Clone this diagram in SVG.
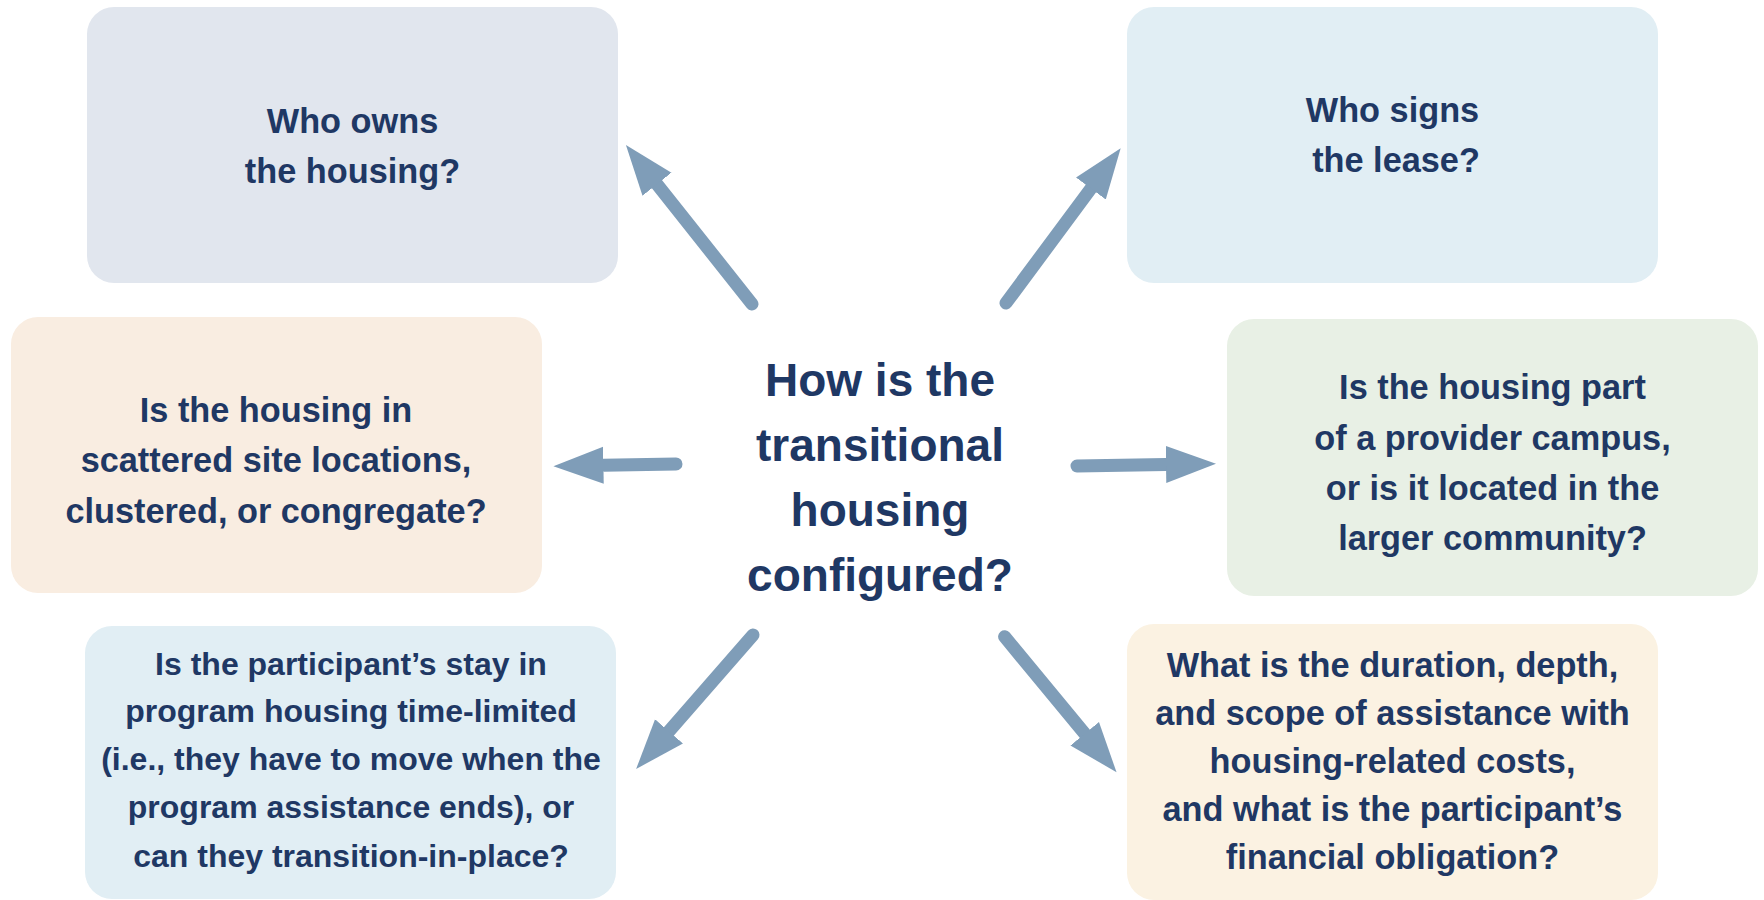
<svg xmlns="http://www.w3.org/2000/svg" width="1764" height="900" viewBox="0 0 1764 900">
<defs>
<style>
.box{stroke:none}
.t{font-family:"Liberation Sans",Arial,sans-serif;font-weight:bold;fill:#1F3864;text-anchor:middle;font-size:34.3px}
.s{font-size:32px}
.c{font-size:46px}
.conn{stroke:#7F9DB8;stroke-width:13;stroke-linecap:round;fill:none;marker-end:url(#ah)}
</style>
<marker id="ah" markerUnits="userSpaceOnUse" viewBox="0 -20 52 40" refX="0" refY="0" markerWidth="52" markerHeight="40" orient="auto">
<path d="M0,-18.5 L50,0 L0,18.5 Z" fill="#7F9DB8"/>
</marker>
</defs>
<rect width="1764" height="900" fill="#FFFFFF"/>
<g id="node-owns">
<rect class="box" x="87" y="7" width="531" height="276" rx="27" fill="#E1E6EE"/>
<text class="t" x="352.5" y="133">Who owns</text>
<text class="t" x="352.5" y="183">the housing?</text>
</g>
<g id="node-lease">
<rect class="box" x="1127" y="7" width="531" height="276" rx="27" fill="#E1EEF4"/>
<text class="t" x="1392.5" y="122">Who signs</text>
<text class="t" x="1396" y="172">the lease?</text>
</g>
<g id="node-site">
<rect class="box" x="11" y="317" width="531" height="276" rx="27" fill="#F9EDE1"/>
<text class="t" x="276" y="422">Is the housing in</text>
<text class="t" x="276" y="472">scattered site locations,</text>
<text class="t" x="276" y="522.5">clustered, or congregate?</text>
</g>
<g id="node-campus">
<rect class="box" x="1227" y="319" width="531" height="277" rx="27" fill="#E8F0E5"/>
<text class="t" x="1492.5" y="399">Is the housing part</text>
<text class="t" x="1492.5" y="449.5">of a provider campus,</text>
<text class="t" x="1492.5" y="500">or is it located in the</text>
<text class="t" x="1492.5" y="550">larger community?</text>
</g>
<g id="node-stay">
<rect class="box" x="85" y="626" width="531" height="273" rx="27" fill="#E1EEF4"/>
<text class="t s" x="351" y="675">Is the participant’s stay in</text>
<text class="t s" x="351" y="722">program housing time-limited</text>
<text class="t s" x="351" y="770">(i.e., they have to move when the</text>
<text class="t s" x="351" y="818">program assistance ends), or</text>
<text class="t s" x="351" y="866.5">can they transition-in-place?</text>
</g>
<g id="node-costs">
<rect class="box" x="1127" y="624" width="531" height="276" rx="27" fill="#FBF2E2"/>
<text class="t" x="1392.5" y="677">What is the duration, depth,</text>
<text class="t" x="1392.5" y="725">and scope of assistance with</text>
<text class="t" x="1392.5" y="773">housing-related costs,</text>
<text class="t" x="1392.5" y="821">and what is the participant’s</text>
<text class="t" x="1392.5" y="868.5">financial obligation?</text>
</g>
<g id="node-center">
<text class="t c" x="880" y="396">How is the</text>
<text class="t c" x="880" y="461">transitional</text>
<text class="t c" x="880" y="526">housing</text>
<text class="t c" x="880" y="591">configured?</text>
</g>
<g id="connectors">
<line class="conn" x1="752" y1="304" x2="657" y2="184.2"/>
<line class="conn" x1="1006" y1="303" x2="1090.9" y2="188.5"/>
<line class="conn" x1="676" y1="464" x2="603.4" y2="465.3"/>
<line class="conn" x1="1077" y1="466" x2="1166" y2="464.5"/>
<line class="conn" x1="753" y1="635" x2="669" y2="731.3"/>
<line class="conn" x1="1004.6" y1="636.7" x2="1084.7" y2="733.7"/>
</g>
</svg>
